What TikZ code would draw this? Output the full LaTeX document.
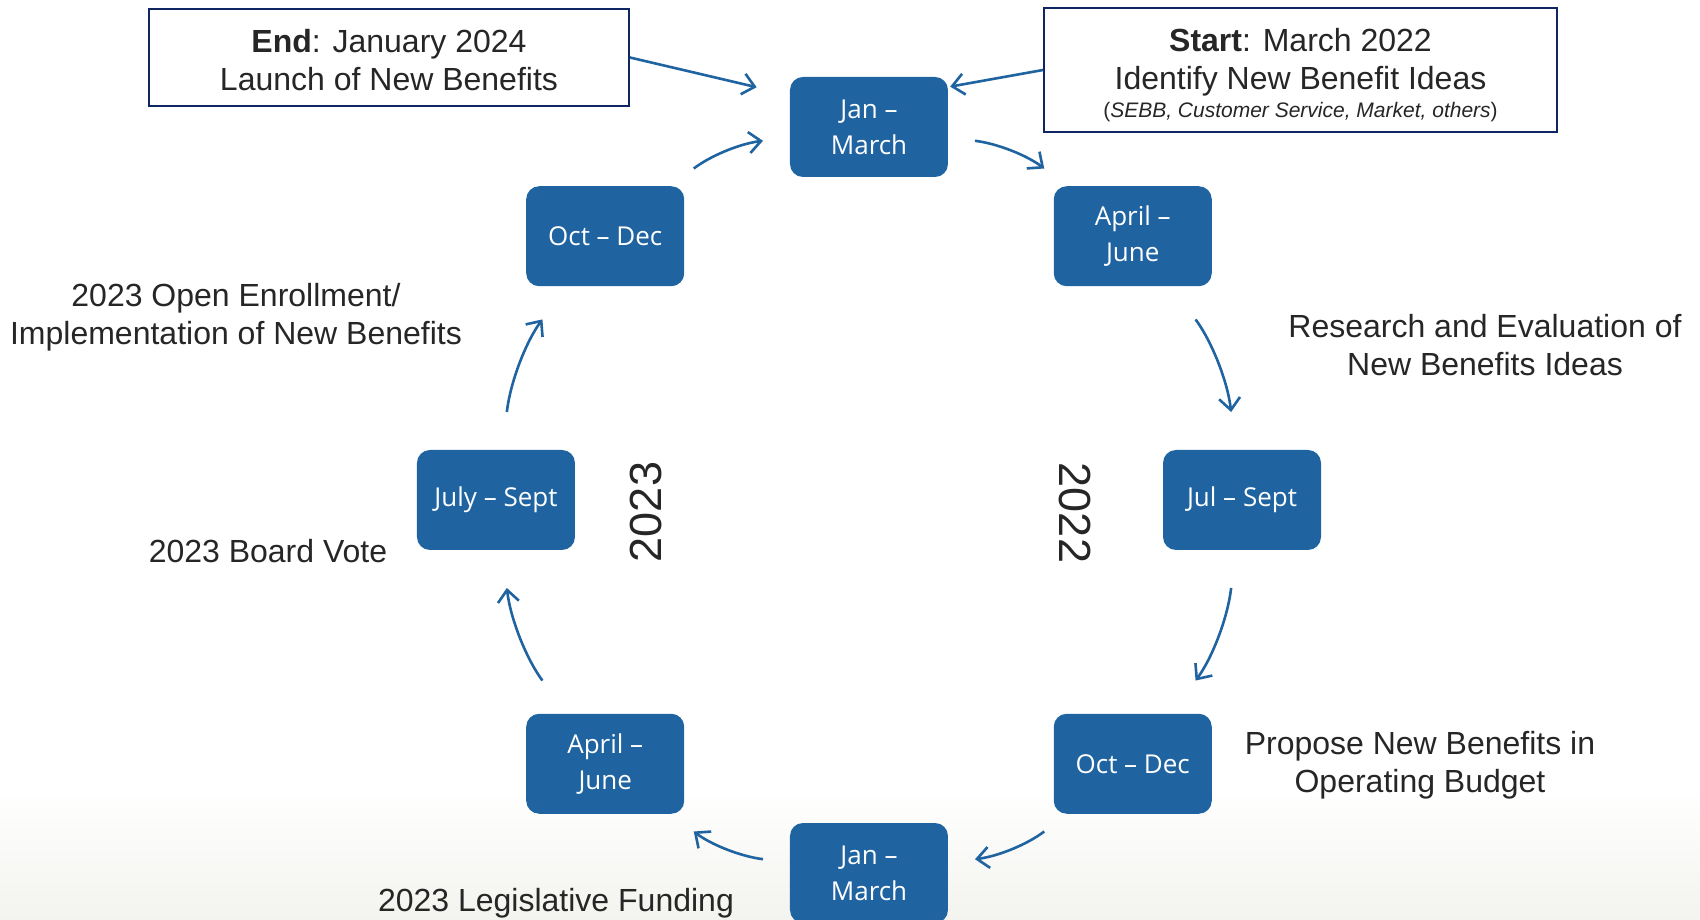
\documentclass[tikz,border=0pt]{standalone}
\usepackage{fontspec}
\setmainfont{Liberation Sans}
\newfontfamily\boxfont{Open Sans}
\usetikzlibrary{arrows.meta}
\pgfdeclarelayer{fondo}
\pgfsetlayers{fondo, main}
\definecolor{boxblue}{RGB}{31,99,160}
\definecolor{navy}{RGB}{14,38,98}
\definecolor{ink}{RGB}{38,38,38}
\definecolor{floor}{RGB}{243,243,239}
\tikzstyle{month}=[rectangle,rounded corners=13pt,fill=boxblue,text=white,align=center,minimum width=158pt,minimum height=100pt,inner sep=0pt,font=\boxfont\fontsize{26}{36}\selectfont]
\tikzstyle{milestone}=[rectangle,draw=navy,line width=1.8pt,fill=white,text=ink,align=center,inner sep=0pt,font=\fontsize{32}{38}\selectfont]
\tikzstyle{remark}=[text=ink,align=center,inner sep=0pt,font=\fontsize{32}{38}\selectfont]
\tikzstyle{yearlbl}=[text=ink,inner sep=0pt,font=\fontsize{45}{50}\selectfont]
\tikzstyle{flow}=[draw=boxblue,line width=2.6pt,-{Straight Barb[length=12pt,width=21pt]}]

\begin{document}
\begin{tikzpicture}[x=1pt,y=1pt]
		\useasboundingbox (-869,-420) rectangle (831,500);
		\begin{pgfonlayer}{fondo}
			\shade[top color=white,bottom color=floor] (-869,-420) rectangle (831,-290);
		\end{pgfonlayer}
		% months around the cycle
		\node[month] (jan22) at (90:373) {Jan –\\March};
		\node[month] (apr22) at (45:373) {April –\\June};
		\node[month] (jul22) at (0:373) {Jul – Sept};
		\node[month] (oct22) at (-45:373) {Oct – Dec};
		\node[month] (jan23) at (-90:373) {Jan –\\March};
		\node[month] (apr23) at (-135:373) {April –\\June};
		\node[month] (jul23) at (180:373) {July – Sept};
		\node[month] (oct23) at (135:373) {Oct – Dec};
		% start and end
		\node[milestone,minimum width=480pt,minimum height=97pt] (endbox) at (-480,442.5) {\rule{0pt}{27.5pt}\textbf{End}: January 2024\\Launch of New Benefits};
		\node[milestone,minimum width=513pt,minimum height=124pt] (startbox) at (431.5,430) {\rule{0pt}{34pt}\textbf{Start}: March 2022\\Identify New Benefit Ideas\\[-10pt]{\fontsize{21}{24}\selectfont(\textit{SEBB, Customer Service, Market, others})}};
		% notes
		\node[remark] (enroll) at (-633,183) {2023 Open Enrollment/\\Implementation of New Benefits};
		\node[remark] (research) at (616,155) {Research and Evaluation of\\New Benefits Ideas};
		\node[remark] (vote) at (-601,-51) {2023 Board Vote};
		\node[remark] (propose) at (551,-265) {Propose New Benefits in\\Operating Budget};
		\node[remark] (funding) at (-313,-403) {2023 Legislative Funding};
		\node[yearlbl,rotate=90] (yr23) at (-223,-12) {2023};
		\node[yearlbl,rotate=-90] (yr22) at (206,-13) {2022};
		% arrows
		\draw[flow,shorten >=34pt] (endbox.east) -- ([yshift=32pt]jan22.west);
		\draw[flow,shorten >=2pt] (startbox.west) -- ([yshift=40pt]jan22.east);
		\draw[flow,shorten <=27pt,shorten >=29pt] (jan22) to[bend left=15] (apr22);
		\draw[flow,shorten <=41pt,shorten >=38pt] (apr22) to[bend left=15] (jul22);
		\draw[flow,shorten <=38pt,shorten >=41pt] (jul22) to[bend left=15] (oct22);
		\draw[flow,shorten <=29pt,shorten >=27pt] (oct22) to[bend left=15] (jan23);
		\draw[flow,shorten <=27pt,shorten >=29pt] (jan23) to[bend left=15] (apr23);
		\draw[flow,shorten <=41pt,shorten >=38pt] (apr23) to[bend left=15] (jul23);
		\draw[flow,shorten <=38pt,shorten >=41pt] (jul23) to[bend left=15] (oct23);
		\draw[flow,shorten <=29pt,shorten >=27pt] (oct23) to[bend left=15] (jan22);
\end{tikzpicture}
\end{document}
